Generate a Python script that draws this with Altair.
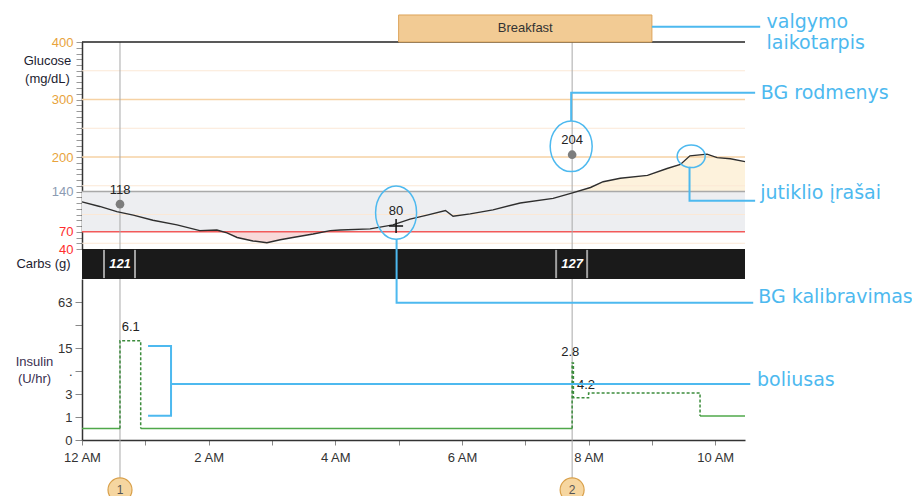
import altair as alt
import pandas as pd

# ---------------- data ----------------
time_window = [0.0, 10.47]          # hours after midnight shown on the x axis

sensor_hours = [0.0, 0.28, 0.55, 0.81, 1.12, 1.5, 1.86, 2.13, 2.29, 2.45, 2.7, 2.92, 3.13, 3.33,
                3.65, 3.92, 4.08, 4.55, 4.91, 5.18, 5.45, 5.74, 5.86, 6.13, 6.49, 6.92, 7.44, 7.76,
                8.03, 8.23, 8.5, 8.93, 9.24, 9.45, 9.6, 9.87, 10.03, 10.24, 10.47]
sensor_mgdl = [122, 114, 105, 99, 90, 82, 72, 73, 68, 60, 54, 51, 56, 60,
               66, 72, 73, 75, 82, 92, 99, 107, 97, 101, 108, 120, 128, 138,
               147, 157, 163, 168, 180, 187, 202, 205, 199, 197, 192]

bg_hours = [0.6, 7.74]
bg_mgdl = [118, 204]
cal_hours = [4.96]
cal_mgdl = [80]

target_low, target_high = 70, 140
grid_light = [50, 100, 150, 250, 350]
grid_orange = [200, 300]
glucose_ticks = list(range(40, 401, 10))
glucose_labels = [40, 70, 140, 200, 300, 400]

event_hours = [0.6, 7.74]
event_ids = ["1", "2"]

carb_hours = [0.6, 7.74]
carb_grams = [121, 127]

meal_name = "Breakfast"
meal_start, meal_end = 5.0, 9.0

basal_seg = [0, 0, 1, 1, 2, 2]
basal_hours = [0.0, 0.6, 0.927, 7.74, 9.76, 10.47]
basal_rate = [0.41, 0.41, 0.41, 0.41, 1.06, 1.06]

bolus_seg = [0, 0, 0, 1, 1, 1, 1, 1]
bolus_hours = [0.6, 0.6, 0.927, 7.74, 7.74, 7.76, 8.0, 9.76]
bolus_rate = [0.41, 18.9, 0.41, 0.41, 9.2, 2.56, 3.13, 1.06]

bolus_text = ["6.1", "2.8", "4.2"]
bolus_text_hours = [0.77, 7.71, 7.96]
bolus_text_rate = [29.1, 13.2, 4.25]

insulin_ticks = [0, 1, 3, 7, 15, 31, 63]
hour_ticks = list(range(0, 11))

# annotation callouts (x in hours, y in mg/dL units of the glucose scale)
note_text = ["valgymo", "laikotarpis", "BG rodmenys", "jutiklio įrašai", "BG kalibravimas"]
note_hours = [10.81, 10.81, 10.72, 10.71, 10.68]
note_mgdl = [435, 399, 312, 137, -43]

lead_id = ["a", "a", "b", "b", "b", "c", "c", "c", "d", "d", "d"]
lead_hours = [9.0, 10.71, 7.725, 7.725, 10.63, 9.594, 9.594, 10.63, 4.968, 4.968, 10.60]
lead_mgdl = [426.6, 426.6, 262.6, 311.8, 311.8, 183.2, 124.0, 124.0, 56.9, -53.3, -53.3]

ell_cal = [4.96, 103.2]
ell_bg = [7.725, 218.6]
ell_peak = [9.62, 201.2]

event_top, event_bottom = 400, -358
meal_box_top = 447
meal_text_y = 424

# annotation callouts in insulin-scale units
bracket_id = ["a", "a", "a", "a", "b", "b"]
bracket_hours = [1.043, 1.406, 1.406, 1.043, 1.406, 10.553]
bracket_rate = [16.0, 16.0, 1.08, 1.08, 4.41, 4.41]
bolus_note = "boliusas"
bolus_note_pos = [10.66, 5.1]
marker_rate = -3.5

# ---------------- styling ----------------
FONT = "Liberation Sans"
NOTE_FONT = "DejaVu Sans"
BLUE = "#4db9ef"

xs = alt.Scale(domain=time_window, nice=False, zero=False)
gs = alt.Scale(domain=[40, 400], range=[207, 0], nice=False, zero=False)
cs = alt.Scale(domain=[0, 1], range=[237, 207], nice=False, zero=False)
isc = alt.Scale(type="symlog", constant=1, domain=[0, 127], range=[398, 237])

xaxis = alt.Axis(values=hour_ticks,
                 labelExpr="datum.value % 2 == 0 ? (datum.value == 0 ? '12 AM' : datum.value + ' AM') : ''",
                 title=None, grid=False, tickSize=5, tickColor="#888", domainColor="#333",
                 domainWidth=1.5, labelColor="#333", labelFontSize=13, labelPadding=6,
                 labelFlush=False, labelOverlap=False)

gaxis = alt.Axis(orient="left", values=glucose_ticks,
                 labelExpr="indexof([" + ",".join(str(v) for v in glucose_labels) + "], datum.value) >= 0 ? datum.label : ''",
                 labelColor={"condition": [{"test": "datum.value >= 200", "value": "#e8a33c"},
                                           {"test": "datum.value == 140", "value": "#8b9bb2"}],
                             "value": "#ff2d2d"},
                 title=["Glucose", "(mg/dL)"], titleAngle=0, titleAlign="center", titleBaseline="top",
                 titleX=-35, titleY=12, titleLineHeight=18, titleFontSize=13, titleFontWeight="normal",
                 titleColor="#1c1c30", tickSize=6, tickColor="#999", domainColor="#333",
                 domainWidth=1.5, grid=False, labelFontSize=13, labelPadding=3, labelOverlap=False)

iaxis = alt.Axis(orient="left", values=insulin_ticks,
                 labelExpr="datum.value == 7 ? '.' : (datum.value == 31 ? '' : datum.label)",
                 title=["Insulin", "(U/hr)"], titleAngle=0, titleAlign="center", titleBaseline="top",
                 titleX=-48, titleY=313, titleLineHeight=17, titleFontSize=13, titleFontWeight="normal",
                 titleColor="#3a3050", labelColor="#333", tickSize=7, tickColor="#888",
                 domainColor="#333", domainWidth=1.5, grid=False, labelFontSize=13, labelPadding=3,
                 labelOverlap=False)

caxis = alt.Axis(orient="left", title="Carbs (g)", labels=False, ticks=False, domain=False, grid=False,
                 titleAngle=0, titleAlign="center", titleBaseline="middle", titleX=-39, titleY=221,
                 titleFontSize=13, titleFontWeight="normal", titleColor="#1c1c30")


def X(f):
    return alt.X(f, type="quantitative", scale=xs, axis=xaxis)


def X2(f):
    return alt.X2(f)


def GY(f):
    return alt.Y(f, type="quantitative", scale=gs, axis=gaxis)


def IY(f):
    return alt.Y(f, type="quantitative", scale=isc, axis=iaxis)


def CY(f):
    return alt.Y(f, type="quantitative", scale=cs, axis=caxis)


# ---------------- glucose panel ----------------
sensor = pd.DataFrame({"t": sensor_hours, "g": sensor_mgdl, "i": range(len(sensor_hours))})
band = pd.DataFrame({"t0": [time_window[0]], "t1": [time_window[1]], "lo": [target_low], "hi": [target_high]})

g_band = alt.Chart(band).mark_rect(color="#edeef1").encode(x=X("t0"), x2=X2("t1"), y=GY("lo"), y2=alt.Y2("hi"))

g_high = alt.Chart(sensor).transform_calculate(
    hh=f"max(datum.g, {target_high})", base=f"{target_high}").mark_area(
    color="#fdf2dc", opacity=1).encode(x=X("t"), y=GY("hh"), y2=alt.Y2("base"))
g_low = alt.Chart(sensor).transform_calculate(
    ll=f"min(datum.g, {target_low})", base=f"{target_low}").mark_area(
    color="#f8d9d9", opacity=1).encode(x=X("t"), y=GY("ll"), y2=alt.Y2("base"))

g_grid_l = alt.Chart(pd.DataFrame({"v": grid_light})).mark_rule(color="#fbe8d6", strokeWidth=1).encode(y=GY("v"))
g_grid_o = alt.Chart(pd.DataFrame({"v": grid_orange})).mark_rule(color="#f6d2a4", strokeWidth=1.5).encode(y=GY("v"))
g_hi_rule = alt.Chart(pd.DataFrame({"v": [target_high]})).mark_rule(color="#a9a9a9", strokeWidth=1.5).encode(y=GY("v"))
g_lo_rule = alt.Chart(pd.DataFrame({"v": [target_low]})).mark_rule(color="#f25a5a", strokeWidth=1.5).encode(y=GY("v"))

events = pd.DataFrame({"t": event_hours, "top": [event_top] * 2, "bot": [event_bottom] * 2, "id": event_ids})
g_events = alt.Chart(events).mark_rule(color="#a8a8a8", strokeWidth=1, clip=False).encode(
    x=X("t"), y=GY("top"), y2=alt.Y2("bot"))

g_line = alt.Chart(sensor).mark_line(color="#2e2e2e", strokeWidth=1.4).encode(x=X("t"), y=GY("g"), order="i:Q")

bg = pd.DataFrame({"t": bg_hours, "g": bg_mgdl})
g_bg = alt.Chart(bg).mark_circle(size=75, color="#7d7d7d", opacity=1).encode(x=X("t"), y=GY("g"))
g_bg_t = alt.Chart(bg).mark_text(dy=-14.5, fontSize=13, color="#222", font=FONT).encode(
    x=X("t"), y=GY("g"), text="g:Q")

cal = pd.DataFrame({"t": cal_hours, "g": cal_mgdl})
g_cal = alt.Chart(cal).mark_point(shape="M-1,0L1,0M0,-1L0,1", size=196, filled=False, color="#111",
                                   strokeWidth=1.5, opacity=1).encode(x=X("t"), y=GY("g"))
g_cal_t = alt.Chart(cal).mark_text(dy=-15, fontSize=13, color="#222", font=FONT).encode(
    x=X("t"), y=GY("g"), text="g:Q")

g_top = alt.Chart(pd.DataFrame({"v": [400]})).mark_rule(color="#222", strokeWidth=1.5).encode(y=GY("v"))

meal = pd.DataFrame({"t0": [meal_start], "t1": [meal_end], "lo": [400], "hi": [meal_box_top],
                     "tm": [(meal_start + meal_end) / 2], "ty": [meal_text_y], "name": [meal_name]})
g_meal = alt.Chart(meal).mark_rect(fill="#f2cb94", stroke="#dda55a", strokeWidth=1, clip=False).encode(
    x=X("t0"), x2=X2("t1"), y=GY("lo"), y2=alt.Y2("hi"))
g_meal_t = alt.Chart(meal).mark_text(fontSize=13, color="#333", font=FONT, clip=False).encode(
    x=X("tm"), y=GY("ty"), text="name:N")

glucose = alt.layer(g_band, g_high, g_low, g_grid_l, g_grid_o, g_hi_rule, g_lo_rule, g_events,
                    g_line, g_bg, g_bg_t, g_cal, g_cal_t, g_top, g_meal, g_meal_t)

# ---------------- carbs band ----------------
carbs = pd.DataFrame({"t": carb_hours, "c": carb_grams, "lo": [0.03] * 2, "hi": [0.97] * 2, "m": [0.5] * 2})
c_band = alt.Chart(pd.DataFrame({"t0": [time_window[0]], "t1": [time_window[1]], "lo": [0], "hi": [1]})).mark_rect(
    color="#1a1a1a").encode(x=X("t0"), x2=X2("t1"), y=CY("lo"), y2=alt.Y2("hi"))
c_bar_l = alt.Chart(carbs).mark_rule(color="#a0a0a0", strokeWidth=2, xOffset=-16).encode(
    x=X("t"), y=CY("lo"), y2=alt.Y2("hi"))
c_bar_r = alt.Chart(carbs).mark_rule(color="#a0a0a0", strokeWidth=2, xOffset=15).encode(
    x=X("t"), y=CY("lo"), y2=alt.Y2("hi"))
c_txt = alt.Chart(carbs).mark_text(color="white", fontSize=13, fontWeight="bold", fontStyle="italic",
                                   font=FONT).encode(x=X("t"), y=CY("m"), text="c:Q")
carbs_layer = alt.layer(c_band, c_bar_l, c_bar_r, c_txt)

# ---------------- insulin panel ----------------
basal = pd.DataFrame({"t": basal_hours, "r": basal_rate, "seg": basal_seg, "i": range(len(basal_hours))})
bolus = pd.DataFrame({"t": bolus_hours, "r": bolus_rate, "seg": bolus_seg, "i": range(len(bolus_hours))})
i_basal = alt.Chart(basal).mark_line(color="#4fa84a", strokeWidth=1.5, interpolate="step-after").encode(
    x=X("t"), y=IY("r"), detail="seg:N", order="i:Q")
i_bolus = alt.Chart(bolus).mark_line(color="#3c8c3c", strokeWidth=1.5, strokeDash=[3, 2],
                                     interpolate="step-after").encode(
    x=X("t"), y=IY("r"), detail="seg:N", order="i:Q")
blab = pd.DataFrame({"t": bolus_text_hours, "r": bolus_text_rate, "s": bolus_text})
i_lab = alt.Chart(blab).mark_text(fontSize=13, color="#222", font=FONT).encode(x=X("t"), y=IY("r"), text="s:N")
insulin = alt.layer(i_basal, i_bolus, i_lab)

# ---------------- callouts ----------------
def GYn(f):
    return alt.Y(f, type="quantitative", scale=gs, axis=None)


def IYn(f):
    return alt.Y(f, type="quantitative", scale=isc, axis=None)


leads = pd.DataFrame({"id": lead_id, "t": lead_hours, "g": lead_mgdl, "i": range(len(lead_id))})
a_leads = alt.Chart(leads).mark_line(color=BLUE, strokeWidth=2, clip=False).encode(
    x=X("t"), y=GYn("g"), detail="id:N", order="i:Q")
notes = pd.DataFrame({"t": note_hours, "g": note_mgdl, "s": note_text})
a_notes = alt.Chart(notes).mark_text(align="left", baseline="middle", fontSize=19, color=BLUE,
                                     font=NOTE_FONT, clip=False).encode(x=X("t"), y=GYn("g"), text="s:N")


def ellipse(center, path, size):
    d = pd.DataFrame({"t": [center[0]], "g": [center[1]]})
    return alt.Chart(d).mark_point(shape=path, size=size, filled=False, color=BLUE, strokeWidth=1.5,
                                   opacity=1, clip=False).encode(x=X("t"), y=GYn("g"))


a_e1 = ellipse(ell_cal, "M-0.768,0A0.768,1 0 1,0 0.768,0A0.768,1 0 1,0 -0.768,0Z", 2852)
a_e2 = ellipse(ell_bg, "M-0.83,0A0.83,1 0 1,0 0.83,0A0.83,1 0 1,0 -0.83,0Z", 2560)
a_e3 = ellipse(ell_peak, "M-1,0A1,0.807 0 1,0 1,0A1,0.807 0 1,0 -1,0Z", 784)
annot_g = alt.layer(a_leads, a_notes, a_e1, a_e2, a_e3)

br = pd.DataFrame({"id": bracket_id, "t": bracket_hours, "r": bracket_rate, "i": range(len(bracket_id))})
a_br = alt.Chart(br).mark_line(color=BLUE, strokeWidth=2, clip=False).encode(
    x=X("t"), y=IYn("r"), detail="id:N", order="i:Q")
bn = pd.DataFrame({"t": [bolus_note_pos[0]], "r": [bolus_note_pos[1]], "s": [bolus_note]})
a_bn = alt.Chart(bn).mark_text(align="left", baseline="middle", fontSize=19, color=BLUE, font=NOTE_FONT,
                               clip=False).encode(x=X("t"), y=IYn("r"), text="s:N")
mk = pd.DataFrame({"t": event_hours, "r": [marker_rate] * 2, "id": event_ids})
a_mk = alt.Chart(mk).mark_point(shape="circle", size=576, filled=True, fill="#f6d6a0", stroke="#d9a04a",
                                strokeWidth=1.2, opacity=1, clip=False).encode(x=X("t"), y=IYn("r"))
a_mk_t = alt.Chart(mk).mark_text(fontSize=12, color="#555", font=FONT, clip=False).encode(
    x=X("t"), y=IYn("r"), text="id:N")
annot_i = alt.layer(a_br, a_bn, a_mk, a_mk_t)

chart = alt.layer(glucose, carbs_layer, insulin, annot_g, annot_i).resolve_scale(
    y="independent").properties(
    width=663, height=398,
    autosize=alt.AutoSizeParams(type="none"),
    padding={"left": 74, "top": 34, "right": 167, "bottom": 56},
).configure(font=FONT, background="white").configure_view(stroke=None).configure_axis(
    labelFont=FONT, titleFont=FONT)

chart.save("out.html", embed_options={"renderer": "svg", "actions": False})
